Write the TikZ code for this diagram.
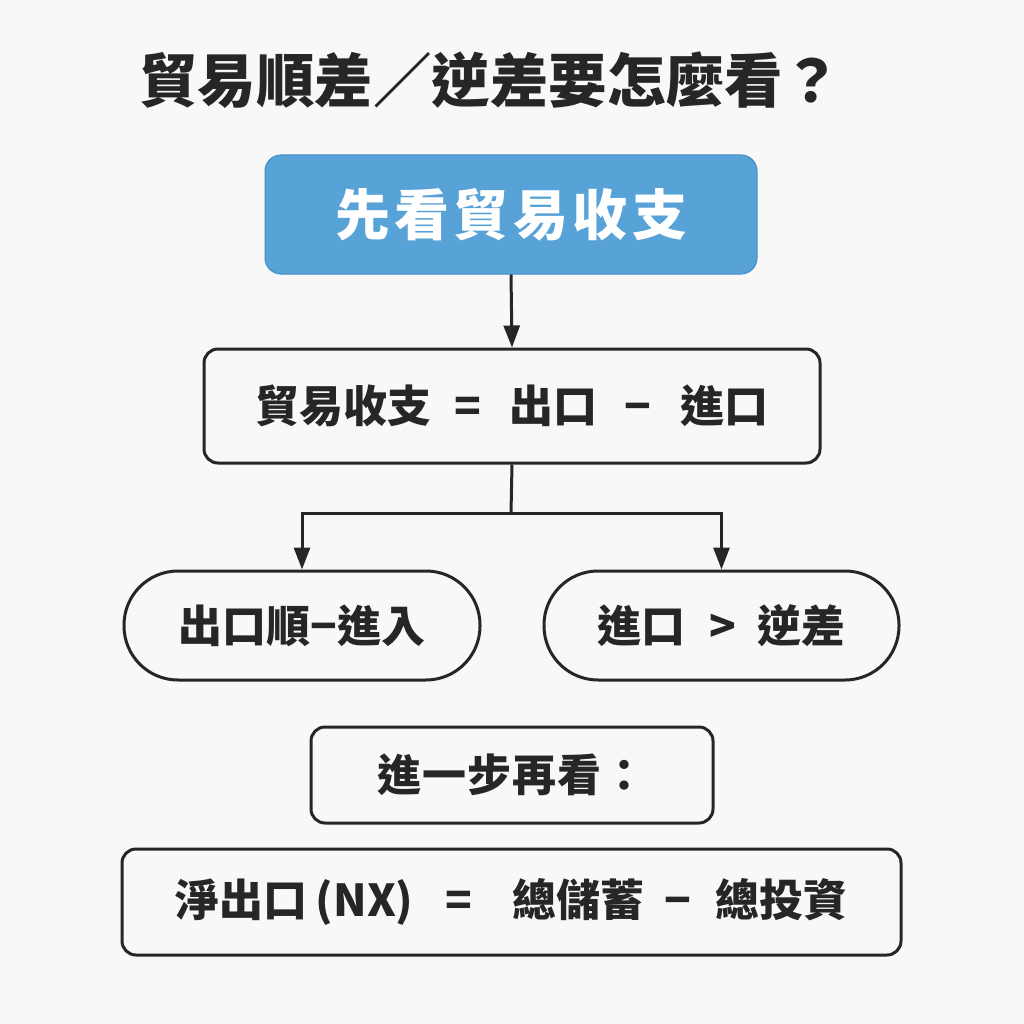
\documentclass[tikz,border=0pt]{standalone}
\usepackage{fontspec}
\setmainfont{Noto Sans CJK TC}
\usetikzlibrary{arrows.meta}
\definecolor{bg}{HTML}{F8F8F8}
\definecolor{ink}{HTML}{262626}
\definecolor{blueF}{HTML}{57A2D6}
\definecolor{blueD}{HTML}{3F8CC8}
\tikzset{
  box/.style={draw=ink, line width=3pt, fill=bg, rounded corners=14pt, text=ink, font=\bfseries\fontsize{44}{50}\selectfont, inner sep=0pt},
  pill/.style={box, rounded corners=54pt},
  bluebox/.style={draw=blueD, line width=1pt, fill=blueF, rounded corners=16pt, text=white, font=\bfseries\fontsize{55}{60}\selectfont\addfontfeature{LetterSpace=8}, inner sep=0pt},
  conn/.style={draw=ink, line width=3pt},
  arr/.style={conn, -{Triangle[width=16pt,length=22pt]}},
}
\begin{document}
\begin{tikzpicture}[x=1pt,y=-1pt]
\fill[bg] (0,0) rectangle (1024,1024);
\useasboundingbox (0,0) rectangle (1024,1024);
\node[text=ink, font=\bfseries\fontsize{58.5}{62}\selectfont, anchor=west, inner sep=0pt] (title) at (139,80) {貿易順差／逆差要怎麼看？};
\node[bluebox, minimum width=492pt, minimum height=119pt] (start) at (511,214.5) {先看貿易收支};
\node[box, minimum width=616pt, minimum height=114pt] (tb) at (512,406) {貿易收支\hspace{23pt}=\hspace{29pt}出口\hspace{27pt}−\hspace{29pt}進口};
\node[pill, minimum width=356pt, minimum height=109pt] (pl) at (302,625.5) {出口順−進入};
\node[pill, minimum width=355pt, minimum height=109pt] (pr) at (721.5,625.5) {進口\hspace{24pt}>\hspace{22pt}逆差};
\node[box, minimum width=402pt, minimum height=96pt] (more) at (512,775) {\addfontfeature{LetterSpace=2}進一步再看：};
\node[box, minimum width=779pt, minimum height=106pt] (nx) at (511.5,902) {淨出口\hspace{8pt}(NX)\hspace{32pt}=\hspace{40pt}總儲蓄\hspace{20pt}−\hspace{24pt}總投資};
\coordinate (j) at (511,513);
\draw[arr] (start.south) -- (tb.north);
\draw[conn] (tb.south) -- (j);
\draw[arr] (j) -| (pl.north);
\draw[arr] (j) -| (pr.north);
\end{tikzpicture}
\end{document}
